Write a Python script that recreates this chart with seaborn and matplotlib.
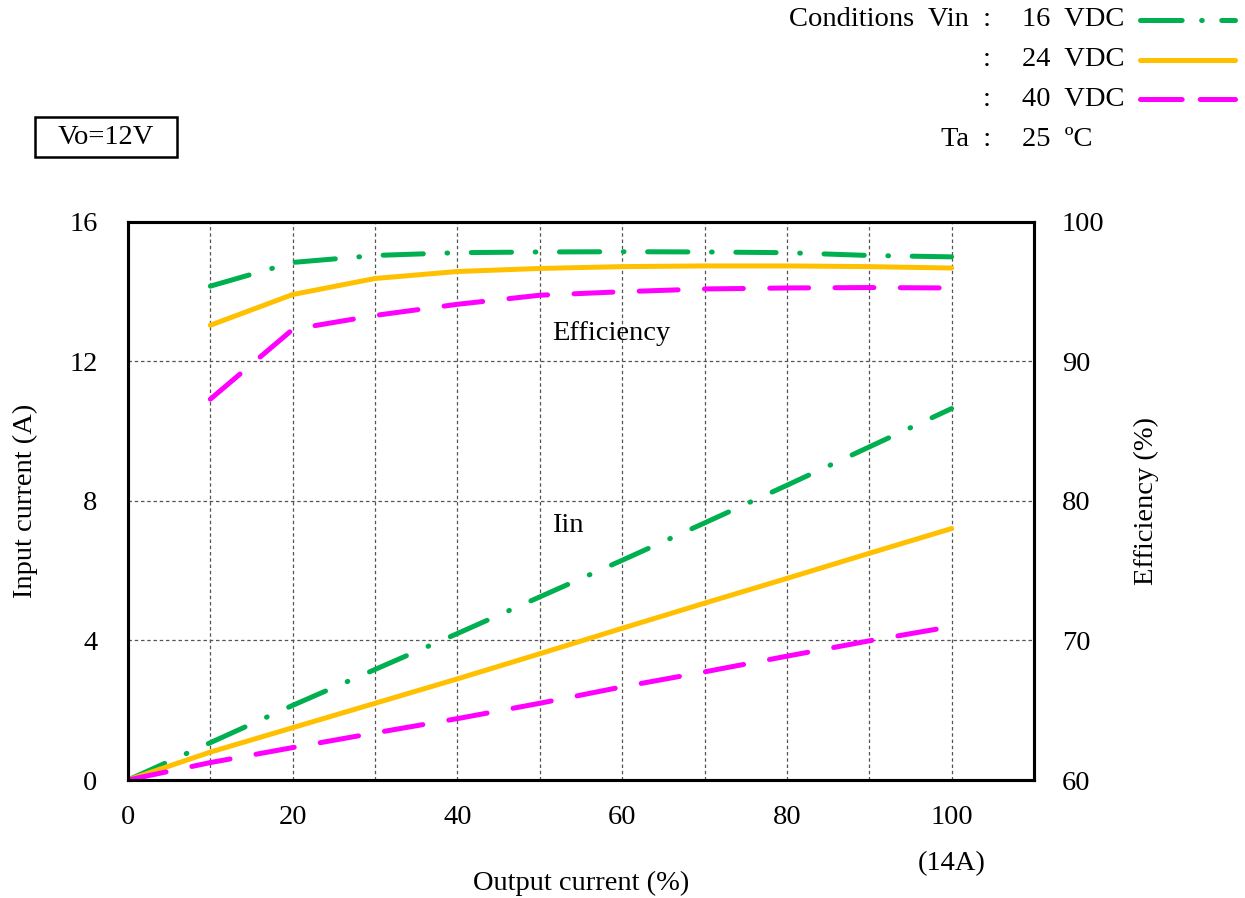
import matplotlib
matplotlib.use("Agg")
import matplotlib.pyplot as plt
import seaborn as sns
import pandas as pd
from matplotlib.lines import Line2D
from matplotlib.patches import Rectangle
from matplotlib.ticker import MultipleLocator

# --- data ---
load_iin = [0, 10, 20, 30, 40, 50, 60, 70, 80, 90, 100]
iin_16v = [0, 1.07, 2.14, 3.17, 4.20, 5.25, 6.30, 7.37, 8.45, 9.55, 10.65]
iin_24v = [0, 0.80, 1.50, 2.20, 2.90, 3.62, 4.35, 5.07, 5.78, 6.50, 7.21]
iin_40v = [0, 0.50, 0.93, 1.35, 1.76, 2.20, 2.67, 3.10, 3.55, 3.99, 4.40]

load_eff = [10, 20, 30, 40, 50, 60, 70, 80, 90, 100]
eff_16v = [95.4, 97.1, 97.6, 97.8, 97.85, 97.87, 97.85, 97.8, 97.6, 97.5]
eff_24v = [92.6, 94.8, 95.95, 96.45, 96.67, 96.8, 96.85, 96.85, 96.8, 96.7]
eff_40v = [87.3, 92.3, 93.3, 94.1, 94.75, 95.0, 95.2, 95.27, 95.3, 95.27]

vin_labels = ["16", "24", "40"]
colors = ["#00B050", "#FFC000", "#FF00FF"]
styles = [(0, (29, 17, 0.5, 17)), "-", (0, (28, 19))]

sns.set_theme(style="white")
plt.rcParams["font.family"] = ["Liberation Serif", "DejaVu Serif"]
plt.rcParams["lines.scale_dashes"] = False
plt.rcParams["text.color"] = "black"
plt.rcParams["axes.labelcolor"] = "black"
FS = 20.5

fig = plt.figure(figsize=(12.45, 8.98), dpi=100)
ax = fig.add_axes([0.1028, 0.1314, 0.7277, 0.6214])
ax2 = ax.twinx()

# input current on the left axis
for y, c, ls in zip([iin_16v, iin_24v, iin_40v], colors, styles):
    df = pd.DataFrame({"load": load_iin, "val": y})
    sns.lineplot(data=df, x="load", y="val", ax=ax, color=c, lw=3.6,
                 linestyle=ls, sort=False, estimator=None)

# efficiency on the right axis
for y, c, ls in zip([eff_16v, eff_24v, eff_40v], colors, styles):
    df = pd.DataFrame({"load": load_eff, "val": y})
    sns.lineplot(data=df, x="load", y="val", ax=ax2, color=c, lw=3.6,
                 linestyle=ls, sort=False, estimator=None)

for a in (ax, ax2):
    for ln in a.lines:
        ln.set_dash_capstyle("round")
        ln.set_solid_capstyle("round")

ax.set_xlim(0, 110)
ax.set_ylim(0, 16)
ax2.set_ylim(60, 100)
ax.xaxis.set_major_locator(MultipleLocator(20))
ax.xaxis.set_minor_locator(MultipleLocator(10))
ax.yaxis.set_major_locator(MultipleLocator(4))
ax2.yaxis.set_major_locator(MultipleLocator(10))
ax.set_xticks([0, 20, 40, 60, 80, 100])

ax.grid(which="both", axis="x", color="#555555", lw=0.9, linestyle=(0, (2.5, 2)))
ax.grid(which="major", axis="y", color="#555555", lw=0.9, linestyle=(0, (2.5, 2)))
ax.set_axisbelow(True)

ax.tick_params(axis="x", which="both", length=0, pad=18, labelsize=FS, colors="black")
ax.tick_params(axis="y", length=0, pad=22, labelsize=FS, colors="black")
ax2.tick_params(axis="y", length=0, pad=20, labelsize=FS, colors="black")

for a in (ax, ax2):
    for s in a.spines.values():
        s.set_color("black")
        s.set_linewidth(2.2)

ax.set_xlabel("Output current (%)", fontsize=FS)
ax.xaxis.set_label_coords(0.5, -0.162)
ax.set_ylabel("Input current (A)", fontsize=FS, labelpad=22)
ax2.set_ylabel("Efficiency (%)", fontsize=FS, labelpad=21)

ax.text(100, -2.4, "(14A)", fontsize=FS, ha="center", va="center")
ax.text(51.5, 12.8, "Efficiency", fontsize=FS, ha="left", va="center")
ax.text(51.5, 7.3, "Iin", fontsize=FS, ha="left", va="center")

# Vo box
fig.add_artist(Rectangle((35 / 1245, 1 - 157 / 898), 142 / 1245, 40 / 898,
                         transform=fig.transFigure, fc="white", ec="black", lw=1.8))
fig.text(106 / 1245, 1 - 138 / 898, "Vo=12V", fontsize=FS, ha="center", va="center")

# condition block
rows_y = [20, 60, 99, 139]
left_txt = ["Conditions  Vin  :", ":", ":", "Ta  :"]
right_txt = ["16  VDC", "24  VDC", "40  VDC", "25  ºC"]
for yy, lt, rt in zip(rows_y, left_txt, right_txt):
    fy = 1 - yy / 898
    fig.text(991 / 1245, fy, lt, fontsize=FS, ha="right", va="center")
    fig.text(1022 / 1245, fy, rt, fontsize=FS, ha="left", va="center")
legend_styles = [(0, (30, 14, 0.5, 14)), "-", (0, (30, 13))]
for yy, c, ls in zip(rows_y[:3], colors, legend_styles):
    fy = 1 - yy / 898
    fig.add_artist(Line2D([1140 / 1245, 1235 / 1245], [fy, fy], transform=fig.transFigure,
                          color=c, lw=3.6, linestyle=ls, dash_capstyle="round"))

fig.savefig("out.png", dpi=100)
